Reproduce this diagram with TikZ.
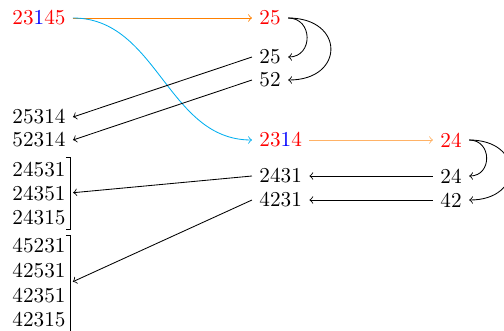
\documentclass[tikz,border=0pt]{standalone}
\begin{document}
\definecolor{orangeA}{rgb}{1,0.5,0}
\definecolor{orangeB}{rgb}{1,0.7,0.4}
\definecolor{cyanA}{RGB}{0,174,239}
\begin{tikzpicture}[x=0.4717pt,y=-0.4717pt,
  lbl/.style={anchor=west},
  arr/.style={->,line width=0.4pt},
  loop1/.style={arr,out=0,in=0,looseness=1.65},
  loop2/.style={arr,out=0,in=0,looseness=2.35},
  brk/.style={line width=0.4pt}]
\useasboundingbox (0,0) rectangle (504,331);
% left column
\node[lbl] (a) at (5,18) {{\color{red}23}{\color{blue}1}{\color{red}45}};
\node[lbl] (e) at (5,117) {25314};
\node[lbl] (f) at (5,140) {52314};
\node[lbl] (r1) at (5,170) {24531};
\node[lbl] (r2) at (5,194) {24351};
\node[lbl] (r3) at (5,218) {24315};
\node[lbl] (s1) at (5,246) {45231};
\node[lbl] (s2) at (5,271) {42531};
\node[lbl] (s3) at (5,296) {42351};
\node[lbl] (s4) at (5,320) {42315};
% middle column
\node[lbl] (b) at (252,18) {\color{red}25};
\node[lbl] (c) at (252,57) {25};
\node[lbl] (d) at (252,80) {52};
\node[lbl] (g) at (252,140) {{\color{red}23}{\color{blue}1}{\color{red}4}};
\node[lbl] (i) at (252,176) {2431};
\node[lbl] (k) at (252,200) {4231};
% right column
\node[lbl] (h) at (433,140) {\color{red}24};
\node[lbl] (j) at (433,176) {24};
\node[lbl] (l) at (433,200) {42};
% brackets
\draw[brk] (66,157) -- (70,157) -- (70,229) -- (66,229);
\coordinate (g1) at (70,193);
\draw[brk] (66,235) -- (70,235) -- (70,331);
\coordinate (g2) at (70,283);
% connectors
\draw[arr,orangeA] (a) -- (b);
\draw[arr,cyanA] (a.east) to[out=0,in=180] (g.west);
\draw[loop1] (b.east) to (c.east);
\draw[loop2] (b.east) to (d.east);
\draw[arr] (c.west) -- (e.east);
\draw[arr] (d.west) -- (f.east);
\draw[arr,orangeB] (g) -- (h);
\draw[loop1] (h.east) to (j.east);
\draw[loop2] (h.east) to (l.east);
\draw[arr] (j) -- (i);
\draw[arr] (l) -- (k);
\draw[arr,shorten >=1.5pt] (i.west) -- (g1);
\draw[arr,shorten >=1.5pt] (k.west) -- (g2);
\end{tikzpicture}
\end{document}
